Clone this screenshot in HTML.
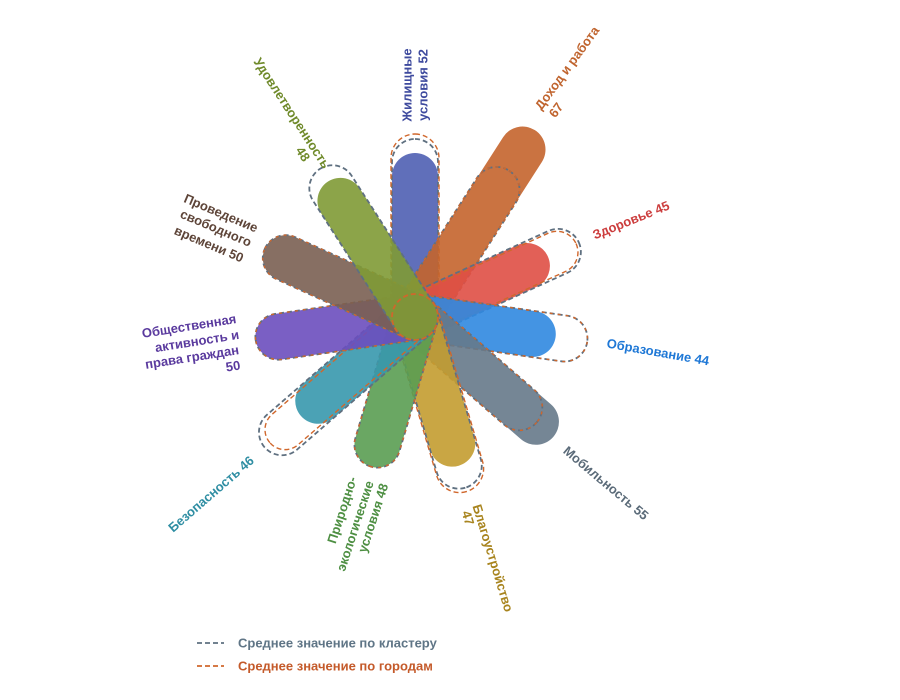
<!DOCTYPE html>
<html><head><meta charset="utf-8"><style>
html,body{margin:0;padding:0;background:#fff;width:900px;height:700px;overflow:hidden}
svg{display:block}
text{font-family:"Liberation Sans","DejaVu Sans",sans-serif;font-weight:bold;font-size:13px;dominant-baseline:central;text-anchor:middle}
.g{fill:none;stroke:#5f7080;stroke-width:1.8;stroke-dasharray:5 3}
.o{fill:none;stroke:#d0672c;stroke-width:1.4;stroke-dasharray:5 3}
.o2{fill:none;stroke:#d0672c;stroke-width:1.4;stroke-dasharray:3 5}
.b{opacity:0.9}
</style></head><body>
<svg width="900" height="700" viewBox="0 0 900 700" xmlns="http://www.w3.org/2000/svg">
<g transform="translate(415,317)">
  <g transform="rotate(0)">
    <rect class="b" x="-23" y="-164" width="46" height="187" rx="23" fill="#4f5fb3"/>
    <rect class="g" x="-23" y="-178" width="46" height="201" rx="23"/>
    <rect class="o" x="-24" y="-183" width="48" height="206" rx="24"/>
  </g>
  <g transform="rotate(32.7)">
    <rect class="b" x="-23" y="-222" width="46" height="245" rx="23" fill="#c4642c"/>
    <rect class="g" x="-23" y="-174" width="46" height="197" rx="23"/>
    <rect class="o2" x="-23" y="-174" width="46" height="197" rx="23"/>
  </g>
  <g transform="rotate(65.5)">
    <rect class="b" x="-23" y="-146" width="46" height="169" rx="23" fill="#df4f45"/>
    <rect class="g" x="-23" y="-180" width="46" height="203" rx="23"/>
    <rect class="o" x="-21" y="-177" width="42" height="199" rx="21"/>
  </g>
  <g transform="rotate(98.2)">
    <rect class="b" x="-23" y="-142" width="46" height="165" rx="23" fill="#3088e0"/>
    <rect class="g" x="-23" y="-174" width="46" height="197" rx="23"/>
    <rect class="o2" x="-23" y="-174" width="46" height="197" rx="23"/>
  </g>
  <g transform="rotate(130.9)">
    <rect class="b" x="-23" y="-183" width="46" height="206" rx="23" fill="#66798a"/>
    <rect class="g" x="-23" y="-161" width="46" height="184" rx="23"/>
    <rect class="o2" x="-23" y="-161" width="46" height="184" rx="23"/>
  </g>
  <g transform="rotate(163.6)">
    <rect class="b" x="-23" y="-155" width="46" height="178" rx="23" fill="#c39c30"/>
    <rect class="g" x="-23" y="-178" width="46" height="201" rx="23"/>
    <rect class="o" x="-24" y="-182" width="48" height="205" rx="24"/>
  </g>
  <g transform="rotate(196.4)">
    <rect class="b" x="-23" y="-156" width="46" height="179" rx="23" fill="#5a9d52"/>
    <rect class="g" x="-23" y="-156" width="46" height="179" rx="23"/>
    <rect class="o2" x="-23" y="-156" width="46" height="179" rx="23"/>
  </g>
  <g transform="rotate(229.1)">
    <rect class="b" x="-23" y="-151" width="46" height="174" rx="23" fill="#3798ad"/>
    <rect class="g" x="-23" y="-199" width="46" height="222" rx="23"/>
    <rect class="o" x="-20" y="-192" width="40" height="212" rx="20"/>
  </g>
  <g transform="rotate(261.8)">
    <rect class="b" x="-23" y="-161" width="46" height="184" rx="23" fill="#6b4ebe"/>
    <rect class="g" x="-23" y="-161" width="46" height="184" rx="23"/>
    <rect class="o2" x="-23" y="-161" width="46" height="184" rx="23"/>
  </g>
  <g transform="rotate(294.5)">
    <rect class="b" x="-23" y="-165" width="46" height="188" rx="23" fill="#7a5f52"/>
    <rect class="g" x="-23" y="-165" width="46" height="188" rx="23"/>
    <rect class="o2" x="-23" y="-165" width="46" height="188" rx="23"/>
  </g>
  <g transform="rotate(327.3)">
    <rect class="b" x="-23" y="-161" width="46" height="184" rx="23" fill="#7f9a35"/>
    <rect class="g" x="-23" y="-176" width="46" height="199" rx="23"/>
  </g>
  <circle cx="0" cy="0" r="23" fill="none" stroke="#d0672c" stroke-width="1.8" stroke-dasharray="5 3"/>
</g>

<g fill="#3e4a9e">
  <text transform="translate(407,85) rotate(-90)">Жилищные</text>
  <text transform="translate(423,85) rotate(-90)">условия 52</text>
</g>
<g fill="#c0642e">
  <text transform="translate(567,68) rotate(-54)">Доход и работа</text>
  <text transform="translate(556,110) rotate(-54)">67</text>
</g>
<g fill="#6f8a2a">
  <text transform="translate(292,113) rotate(57)">Удовлетворенность</text>
  <text transform="translate(303,154) rotate(57)">48</text>
</g>
<g fill="#5e4539">
  <text transform="translate(221,213) rotate(23)">Проведение</text>
  <text transform="translate(216,228) rotate(23)">свободного</text>
  <text transform="translate(209,244) rotate(23)">времени 50</text>
</g>
<g fill="#5a3a9e">
  <text transform="translate(189,326) rotate(-9)">Общественная</text>
  <text transform="translate(197,341) rotate(-9)">активность и</text>
  <text transform="translate(192,357) rotate(-9)">права граждан</text>
  <text transform="translate(233,366) rotate(-9)">50</text>
</g>
<text fill="#cc3d3d" transform="translate(631,220) rotate(-22)">Здоровье 45</text>
<text fill="#1f78d6" transform="translate(658,352) rotate(10)">Образование 44</text>
<text fill="#5a6a78" transform="translate(606,483) rotate(40)">Мобильность 55</text>
<g fill="#a8841e">
  <text transform="translate(493,558) rotate(73)">Благоустройство</text>
  <text transform="translate(468,518) rotate(73)">47</text>
</g>
<g fill="#4e8f43">
  <text transform="translate(342,510) rotate(-72)">Природно-</text>
  <text transform="translate(355,526) rotate(-72)">экологические</text>
  <text transform="translate(373,518) rotate(-72)">условия 48</text>
</g>
<text fill="#2f8ea3" transform="translate(211,494) rotate(-41)">Безопасность 46</text>

<line x1="197" y1="643" x2="224" y2="643" stroke="#5f7080" stroke-width="1.8" stroke-dasharray="5 3"/>
<line x1="197" y1="666" x2="224" y2="666" stroke="#d0672c" stroke-width="1.8" stroke-dasharray="5 3"/>
<text x="238" y="643" fill="#5f7586" style="text-anchor:start">Среднее значение по кластеру</text>
<text x="238" y="666" fill="#c45a2a" style="text-anchor:start">Среднее значение по городам</text>
</svg>
</body></html>
